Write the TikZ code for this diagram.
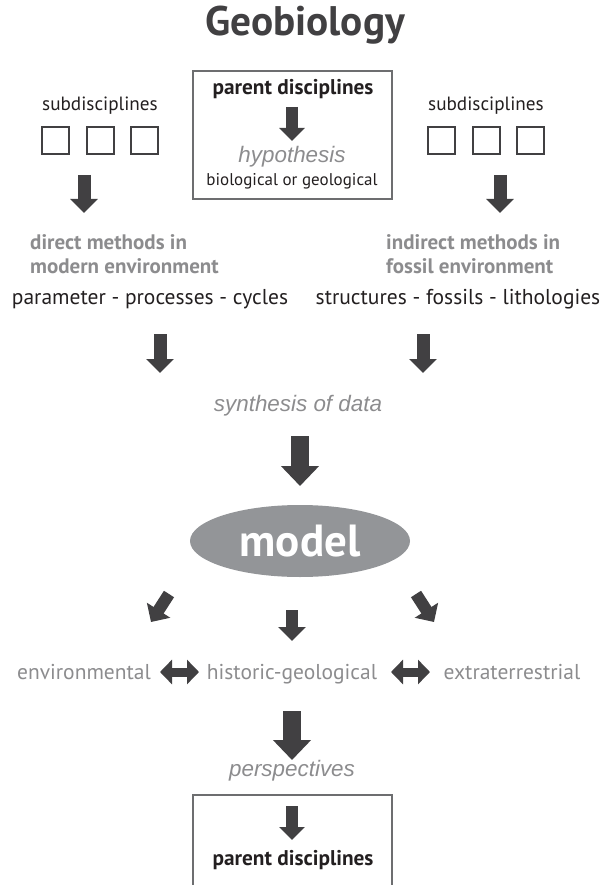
\documentclass[tikz,border=0pt]{standalone}
\usepackage{fontspec}
\setmainfont{PT Sans}
\newfontfamily\itfont{Liberation Sans}
\usetikzlibrary{arrows.meta,shapes.geometric}
\definecolor{arrowc}{HTML}{414042}
\definecolor{graytxt}{HTML}{8C8C8E}
\definecolor{ellc}{HTML}{939598}
\definecolor{boxc}{HTML}{6D6E70}
\definecolor{darktxt}{HTML}{231F20}
\tikzset{
  blk/.style={draw=arrowc, line width=13pt, -{Triangle[length=14pt,width=27pt]}},
  boxblk/.style={draw=arrowc, line width=12pt, -{Triangle[length=13pt,width=25pt]}},
  bigblk/.style={draw=arrowc, line width=18pt, -{Triangle[length=20pt,width=37pt]}},
  dblk/.style={draw=arrowc, line width=9pt, {Triangle[length=12pt,width=24pt]}-{Triangle[length=12pt,width=24pt]}},
  frame/.style={draw=boxc, line width=1.3pt},
  sq/.style={draw=arrowc, line width=2pt, minimum size=27pt, inner sep=0pt},
  body/.style={font=\fontsize{21.5}{24}\selectfont, text=darktxt, inner sep=0pt},
  subd/.style={font=\fontsize{19.2}{22}\selectfont, text=darktxt, inner sep=0pt},
  small/.style={font=\fontsize{17}{20}\selectfont, text=darktxt, inner sep=0pt},
  boldp/.style={font=\fontsize{21.3}{24}\selectfont\bfseries, text=darktxt, inner sep=0pt},
  method/.style={font=\fontsize{21}{24}\selectfont\bfseries, text=graytxt, align=left, inner sep=0pt},
  ital/.style={font=\fontsize{22.4}{26}\selectfont\itfont\itshape, text=graytxt, inner sep=0pt},
  grayb/.style={font=\fontsize{21.5}{24}\selectfont, text=graytxt, inner sep=0pt},
}
\begin{document}
\begin{tikzpicture}[x=1pt,y=-1pt]
\useasboundingbox (0,0) rectangle (599,885);
% title
\node[font=\fontsize{41.3}{48}\selectfont\bfseries, text=arrowc, inner sep=0pt] (title) at (305,25) {Geobiology};
% top box
\draw[frame] (193,71) rectangle (392,199);
\node[boldp] (pd1) at (293,89) {parent disciplines};
\coordinate (a0s) at (292,107);
\coordinate (a0e) at (292,141);
\draw[boxblk] (a0s) -- (a0e);
\node[ital] (hyp) at (292,157) {hypothesis};
\node[small] (bg) at (292,181) {biological or geological};
% subdisciplines
\node[subd] (subL) at (100,106) {subdisciplines};
\node[subd] (subR) at (486,106) {subdisciplines};
\node[sq] (sL1) at (55,141) {};
\node[sq] (sL2) at (100,141) {};
\node[sq] (sL3) at (144,141) {};
\node[sq] (sR1) at (441,141) {};
\node[sq] (sR2) at (486,141) {};
\node[sq] (sR3) at (530,141) {};
\coordinate (aLs) at (84,175);
\coordinate (aLe) at (84,213);
\coordinate (aRs) at (500,175);
\coordinate (aRe) at (500,213);
\draw[blk] (aLs) -- (aLe);
\draw[blk] (aRs) -- (aRe);
% methods
\node[method, anchor=north west] (mL) at (30,234) {direct methods in\\modern environment};
\node[method, anchor=north west] (mR) at (386,234) {indirect methods in\\fossil environment};
\node[body] (pL) at (150,299) {parameter - processes - cycles};
\node[body] (pR) at (458,299) {structures - fossils - lithologies};
\coordinate (bLs) at (160,334);
\coordinate (bLe) at (160,373);
\coordinate (bRs) at (423,334);
\coordinate (bRe) at (423,373);
\draw[blk] (bLs) -- (bLe);
\draw[blk] (bRs) -- (bRe);
\node[ital] (syn) at (298,406) {synthesis of data};
\coordinate (cs) at (300,436);
\coordinate (ce) at (300,486);
\draw[bigblk] (cs) -- (ce);
% model
\node[ellipse, fill=ellc, minimum width=220pt, minimum height=72pt, inner sep=0pt,
      font=\fontsize{45}{52}\selectfont\bfseries, text=white] (model) at (300,541) {model};
% diagonal arrows
\coordinate (dLs) at (169,594);
\coordinate (dLe) at (151,622);
\coordinate (dCs) at (292,610);
\coordinate (dCe) at (292,641);
\coordinate (dRs) at (416,594);
\coordinate (dRe) at (434,622);
\draw[blk, line width=12pt] (dLs) -- (dLe);
\draw[blk, line width=12pt] (dCs) -- (dCe);
\draw[blk, line width=12pt] (dRs) -- (dRe);
% row
\node[grayb, anchor=base] (env) at (84,679) {environmental};
\node[grayb, anchor=base] (hist) at (292,679) {historic-geological};
\node[grayb, anchor=base] (ext) at (512,679) {extraterrestrial};
\coordinate (x1a) at (160,672);
\coordinate (x1b) at (199,672);
\coordinate (x2a) at (391,672);
\coordinate (x2b) at (430,672);
\draw[dblk] (x1a) -- (x1b);
\draw[dblk] (x2a) -- (x2b);
% lower part
\coordinate (fs) at (292,711);
\coordinate (fe) at (292,760);
\draw[bigblk] (fs) -- (fe);
\node[ital] (persp) at (292,771) {perspectives};
\draw[frame] (193,885.5) -- (193,795) -- (392,795) -- (392,885.5);
\coordinate (gs) at (292,806);
\coordinate (ge) at (292,840);
\draw[boxblk] (gs) -- (ge);
\node[boldp] (pd2) at (293,860) {parent disciplines};
\end{tikzpicture}
\end{document}
